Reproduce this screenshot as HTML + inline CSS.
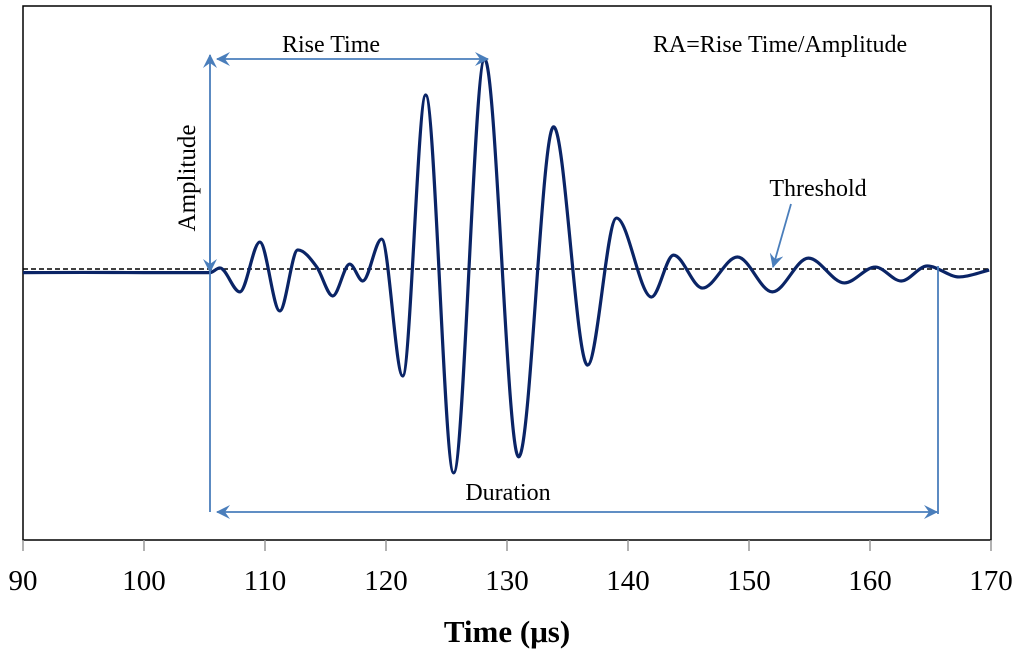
<!DOCTYPE html>
<html><head><meta charset="utf-8"><style>
html,body{margin:0;padding:0;background:#fff;}
svg{display:block;font-family:"Liberation Serif",serif;}
</style></head><body>
<svg id="chart" width="1024" height="655" viewBox="0 0 1024 655">
<defs>
<marker id="ah" viewBox="0 0 14 14" refX="13" refY="7" markerWidth="14" markerHeight="14" markerUnits="userSpaceOnUse" orient="auto-start-reverse">
<path d="M0,0 L14,7 L0,14 L5,7 Z" fill="#4a7ebb"/></marker>
</defs>
<rect x="23" y="6" width="968" height="534" fill="none" stroke="#000" stroke-width="1.5"/>
<g id="xticks"></g>
<line id="thr" stroke="#000" stroke-width="1.5" stroke-dasharray="5,3"/>
<path id="wave" fill="none" stroke="#0a2466" stroke-width="3.2" stroke-linejoin="round"/>
<g stroke="#4a7ebb" stroke-width="1.8" fill="none">
<line x1="210" y1="512" x2="210" y2="55" marker-end="url(#ah)"/>
<line x1="210" y1="140" x2="210" y2="272" marker-end="url(#ah)"/>
<line x1="217" y1="59" x2="488" y2="59" marker-start="url(#ah)" marker-end="url(#ah)"/>
<line x1="938" y1="266" x2="938" y2="514"/>
<line x1="217" y1="512" x2="937" y2="512" marker-start="url(#ah)" marker-end="url(#ah)"/>
<line x1="791" y1="204" x2="773" y2="267" marker-end="url(#ah)"/>
</g>
<text x="331" y="52" font-size="24" text-anchor="middle">Rise Time</text>
<text x="780" y="52" font-size="24" text-anchor="middle">RA=Rise Time/Amplitude</text>
<text x="818" y="196" font-size="24" text-anchor="middle">Threshold</text>
<text x="508" y="500" font-size="24" text-anchor="middle">Duration</text>
<text transform="translate(195,178) rotate(-90)" font-size="25" text-anchor="middle">Amplitude</text>
<text x="507" y="642" font-size="31" font-weight="bold" text-anchor="middle">Time (μs)</text>
</svg>
<script>
const tickValues = [90,100,110,120,130,140,150,160,170];
const times = [90,95,100,105.44,106.27,107.92,109.57,111.22,112.71,114.28,115.6,117.0,118.08,119.64,121.38,123.28,125.59,128.15,130.96,133.85,136.66,139.05,141.94,143.76,146.15,149.04,151.93,154.91,157.88,160.44,162.58,164.73,167.37,169.85];
const amps = [-0.3,-0.2,-0.3,-0.3,1.9,-9.3,14,-18.2,10.3,2.3,-11.2,3.7,-4.2,15.4,-48.6,82.7,-93.9,99.5,-86.4,67.8,-43.5,25.2,-11.7,7.9,-7.5,7.0,-9.3,6.5,-5.1,2.3,-4.2,2.8,-2.3,0.9];
const threshold = [1.4];
const X = t => 23 + (t - 90) * (991 - 23) / 80;
const Y = v => 272 - v * 2.14;
const NS = "http://www.w3.org/2000/svg";
const g = document.getElementById('xticks');
tickValues.forEach(v => {
  const l = document.createElementNS(NS, 'line');
  l.setAttribute('x1', X(v)); l.setAttribute('x2', X(v));
  l.setAttribute('y1', 540); l.setAttribute('y2', 551);
  l.setAttribute('stroke', '#999'); l.setAttribute('stroke-width', '1.5');
  
  
  g.appendChild(l);
  const t = document.createElementNS(NS, 'text');
  t.setAttribute('x', X(v)); t.setAttribute('y', 590);
  t.setAttribute('font-size', '29'); t.setAttribute('text-anchor', 'middle');
  t.textContent = v;
  
  
  g.appendChild(t);
});
const th = document.getElementById('thr');
th.setAttribute('x1', 23); th.setAttribute('x2', 991);
th.setAttribute('y1', Y(threshold[0])); th.setAttribute('y2', Y(threshold[0]));
const xs = times.map(X), ys = amps.map(Y), n = xs.length;
const d = [], m = new Array(n);
for (let i = 0; i < n - 1; i++) d.push((ys[i+1]-ys[i])/(xs[i+1]-xs[i]));
m[0] = d[0]; m[n-1] = d[n-2];
for (let i = 1; i < n - 1; i++) m[i] = (d[i-1]*d[i] <= 0) ? 0 : (d[i-1]+d[i])/2;
for (let i = 0; i < n - 1; i++) {
  if (d[i] === 0) { m[i] = 0; m[i+1] = 0; continue; }
  const a = m[i]/d[i], b = m[i+1]/d[i], s = a*a + b*b;
  if (s > 9) { const k = 3/Math.sqrt(s); m[i] = k*a*d[i]; m[i+1] = k*b*d[i]; }
}
let p = `M${xs[0]},${ys[0]}`;
for (let i = 0; i < n - 1; i++) {
  const h = (xs[i+1]-xs[i])/3;
  p += ` C${xs[i]+h},${ys[i]+m[i]*h} ${xs[i+1]-h},${ys[i+1]-m[i+1]*h} ${xs[i+1]},${ys[i+1]}`;
}
document.getElementById('wave').setAttribute('d', p);
</script>
</body></html>
